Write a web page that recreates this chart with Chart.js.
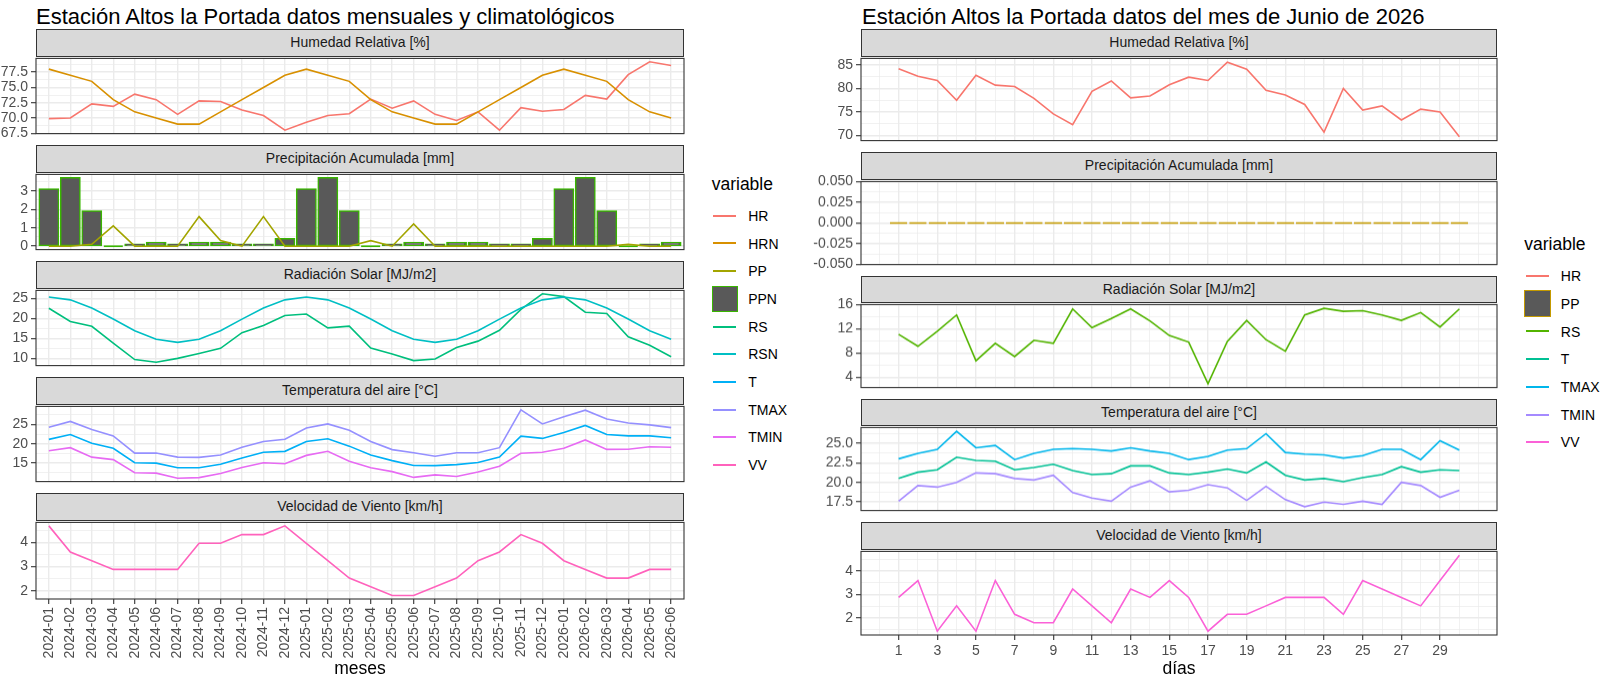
<!DOCTYPE html>
<html>
<head>
<meta charset="utf-8">
<script src="https://cdn.jsdelivr.net/npm/chart.js@4.4.1/dist/chart.umd.min.js"></script>
<style>
    body { margin: 0; background: #fff; font-family: "Liberation Sans", Arial, sans-serif; }
    #page { position: relative; width: 1600px; height: 676px; overflow: hidden; background: #fff; }
    .txt { position: absolute; white-space: nowrap; color: #000; }
    .strip { position: absolute; box-sizing: border-box; background: #d9d9d9; border: 1px solid #333;
             text-align: center; font-size: 14px; color: #1a1a1a; white-space: nowrap; }
    canvas { position: absolute; }
</style>
</head>
<body>
<div id="page"></div>
<script>
// ---- datos mensuales (panel izquierdo) ----
const meses = ['2024-01','2024-02','2024-03','2024-04','2024-05','2024-06','2024-07','2024-08','2024-09','2024-10','2024-11','2024-12',
               '2025-01','2025-02','2025-03','2025-04','2025-05','2025-06','2025-07','2025-08','2025-09','2025-10','2025-11','2025-12',
               '2026-01','2026-02','2026-03','2026-04','2026-05','2026-06'];
const hrMes   = [69.9,70.0,72.3,71.9,73.9,73.0,70.6,72.8,72.7,71.3,70.4,68.0,69.3,70.4,70.7,73.1,71.6,72.8,70.6,69.6,71.0,68.0,71.7,71.1,71.4,73.7,73.1,77.1,79.2,78.6];
const hrnMes  = [78,77,76,73,71,70,69,69,71,73,75,77,78,77,76,73,71,70,69,69,71,73,75,77,78,77,76,73,71,70];
const ppMes   = [0,0,0.1,1.1,0,0,0,1.6,0.3,0,1.6,0,0,0,0,0.3,0,1.2,0,0,0,0,0,0,0,0,0,0.1,0,0];
const ppnMes  = [3.1,3.7,1.9,0,0.1,0.2,0.1,0.2,0.2,0.1,0.1,0.4,3.1,3.7,1.9,0,0.1,0.2,0.1,0.2,0.2,0.1,0.1,0.4,3.1,3.7,1.9,0,0.1,0.2];
const rsMes   = [22.5,19.2,18.0,13.8,9.7,9.05,10.0,11.2,12.5,16.4,18.2,20.7,21.05,17.6,18.05,12.6,11.1,9.45,9.85,12.7,14.3,17.0,22.2,26.1,25.4,21.5,21.2,15.4,13.25,10.4];
const rsnMes  = [25.3,24.6,22.55,19.8,16.9,14.75,14.0,14.75,16.9,19.8,22.55,24.6,25.3,24.6,22.55,19.8,16.9,14.75,14.0,14.75,16.9,19.8,22.55,24.6,25.3,24.6,22.55,19.8,16.9,14.75];
const tMes    = [21.15,22.4,20.15,18.85,15.1,15.0,13.8,13.8,14.7,16.3,17.8,18.05,20.6,21.3,19.4,17.1,15.65,14.4,14.35,14.6,15.15,16.55,22.0,21.4,22.9,24.75,22.4,22.05,22.05,21.55];
const tmaxMes = [24.3,25.8,23.7,22.05,17.6,17.6,16.55,16.5,17.1,19.1,20.6,21.2,24.1,25.15,23.5,20.6,18.5,17.7,16.8,17.7,17.7,19.0,28.8,25.15,27.0,28.7,26.4,25.4,24.9,24.2];
const tminMes = [18.2,19.0,16.55,15.9,12.5,12.4,11.1,11.25,12.3,13.85,15.1,14.85,17.0,18.05,15.5,13.8,12.8,11.3,11.95,11.55,12.7,14.2,17.55,17.8,18.85,21.0,18.55,18.6,19.25,19.1];
const vvMes   = [4.68,3.6,3.24,2.88,2.88,2.88,2.88,3.96,3.96,4.32,4.32,4.68,3.96,3.24,2.52,2.16,1.8,1.8,2.16,2.52,3.24,3.6,4.32,3.96,3.24,2.88,2.52,2.52,2.88,2.88];

// ---- datos diarios (panel derecho) ----
const dias    = [1,2,3,4,5,6,7,8,9,10,11,12,13,14,15,16,17,18,19,20,21,22,23,24,25,26,27,28,29,30];
const diasMarcas = [1,3,5,7,9,11,13,15,17,19,21,23,25,27,29];
const hrDia   = [84.2,82.6,81.7,77.5,82.8,80.7,80.4,77.9,74.6,72.3,79.4,81.6,78.0,78.4,80.8,82.4,81.7,85.6,84.1,79.6,78.6,76.6,70.7,80.0,75.4,76.3,73.3,75.6,75.0,69.7];
const ppDia   = [0,0,0,0,0,0,0,0,0,0,0,0,0,0,0,0,0,0,0,0,0,0,0,0,0,0,0,0,0,0];
const rsDia   = [11.1,9.1,11.6,14.3,6.7,9.6,7.4,10.1,9.6,15.3,12.2,13.7,15.3,13.3,10.9,9.8,2.9,9.9,13.4,10.2,8.3,14.3,15.4,14.9,15.0,14.3,13.4,14.7,12.3,15.3];
const tDia    = [20.5,21.3,21.6,23.2,22.8,22.7,21.6,21.9,22.3,21.5,21.0,21.1,22.1,22.1,21.2,21.0,21.3,21.7,21.2,22.6,20.9,20.3,20.5,20.1,20.6,21.0,22.0,21.3,21.6,21.5];
const tmaxDia = [23.0,23.7,24.2,26.5,24.4,24.7,22.9,23.7,24.2,24.3,24.2,24.0,24.4,24.0,23.7,22.9,23.3,24.1,24.3,26.2,23.8,23.6,23.5,23.1,23.4,24.2,24.2,22.9,25.3,24.1];
const tminDia = [17.6,19.6,19.4,20.0,21.2,21.1,20.5,20.3,20.9,18.7,18.0,17.6,19.4,20.2,18.8,19.0,19.7,19.3,17.7,19.5,17.8,16.9,17.5,17.2,17.6,17.2,20.0,19.6,18.1,19.0];
const vvDia   = [2.88,3.6,1.44,2.52,1.44,3.6,2.16,1.8,1.8,3.24,2.52,1.8,3.24,2.88,3.6,2.88,1.44,2.16,2.16,2.52,2.88,2.88,2.88,2.16,3.6,3.24,2.88,2.52,3.6,4.68];

// ---- leyendas ----
const variablesMes = ['HR','HRN','PP','PPN','RS','RSN','T','TMAX','TMIN','VV'];
const coloresMes   = ['#F8766D','#D89000','#A3A500','#39B600','#00BF7D','#00BFC4','#00B0F6','#9590FF','#E76BF3','#FF62BC'];
const variablesDia = ['HR','PP','RS','T','TMAX','TMIN','VV'];
const coloresDia   = ['#F8766D','#C49A00','#53B400','#00C094','#00B6EB','#A58AFF','#FB61D7'];

const FUENTE = "'Liberation Sans', Arial, sans-serif";
const GRIS_EJE = '#4D4D4D';
const GRILLA = '#EBEBEB';
const RELLENO_BARRA = '#595959';
const STRIP_H = 27.5;
const PAD = 10;

Chart.defaults.font.family = FUENTE;

const page = document.getElementById('page');

function colorDe(nombre, nombres, colores) {
    return colores[nombres.indexOf(nombre)];
}

function limites(series) {
    const todos = series.flat();
    const lo = Math.min(...todos), hi = Math.max(...todos), r = hi - lo;
    return [lo - 0.05 * r, hi + 0.05 * r];
}

// marcas mayores + menores (a mitad de camino), como en ggplot
function marcas(mayores, lo, hi, conMenores) {
    const res = mayores.filter(v => v >= lo - 1e-9 && v <= hi + 1e-9).map(v => ({ value: v, menor: false }));
    if (conMenores) {
        const d = mayores[1] - mayores[0];
        const ext = [mayores[0] - d, ...mayores, mayores[mayores.length - 1] + d];
        const cand = [];
        for (let i = 0; i < ext.length - 1; i++) cand.push(ext[i], (ext[i] + ext[i + 1]) / 2);
        cand.push(ext[ext.length - 1]);
        cand.forEach(v => {
            if (v >= lo && v <= hi && !mayores.some(m => Math.abs(m - v) < 1e-9)) res.push({ value: v, menor: true });
        });
    }
    return res.sort((a, b) => a.value - b.value);
}

function puntos(xs, ys) {
    return xs.map((x, i) => ({ x: x, y: ys[i] }));
}

function texto(str, left, base, size, extra) {
    const d = document.createElement('div');
    d.className = 'txt';
    d.textContent = str;
    d.style.left = left + 'px';
    d.style.top = (base - 0.8465 * size) + 'px';
    d.style.fontSize = size + 'px';
    d.style.lineHeight = size + 'px';
    if (extra) Object.assign(d.style, extra);
    page.appendChild(d);
    return d;
}

const bordePanel = {
    id: 'bordePanel',
    afterDraw(chart) {
        const a = chart.chartArea, c = chart.ctx;
        c.save();
        c.strokeStyle = '#333333';
        c.lineWidth = 1.1;
        c.strokeRect(a.left, a.top, a.right - a.left, a.bottom - a.top);
        c.restore();
    }
};

function faceta(cfg) {
    const strip = document.createElement('div');
    strip.className = 'strip';
    Object.assign(strip.style, {
        left: cfg.x + 'px', top: cfg.top + 'px', width: cfg.w + 'px',
        height: STRIP_H + 'px', lineHeight: (STRIP_H - 2) + 'px'
    });
    strip.textContent = cfg.titulo;
    page.appendChild(strip);

    const panelTop = cfg.top + STRIP_H;
    const ejeH = cfg.ejeX ? cfg.ejeXH : 0;
    const padAbajo = cfg.ejeX ? 0 : PAD;
    const cw = cfg.axw + cfg.w + PAD;
    const ch = PAD + cfg.h + ejeH + padAbajo;

    const canvas = document.createElement('canvas');
    canvas.width = cw;
    canvas.height = ch;
    canvas.style.left = (cfg.x - cfg.axw) + 'px';
    canvas.style.top = (panelTop - PAD) + 'px';
    canvas.style.width = cw + 'px';
    canvas.style.height = ch + 'px';
    page.appendChild(canvas);

    const ylim = cfg.ylim || limites(cfg.series);
    const yTicks = marcas(cfg.yMarcas, ylim[0], ylim[1], true);
    const xTicks = marcas(cfg.xMarcas, cfg.xlim[0], cfg.xlim[1], cfg.xMenores);

    const grid = {
        color: GRILLA,
        lineWidth: ctx => (ctx.tick && ctx.tick.menor) ? 0.7 : 1.4,
        tickColor: ctx => (ctx.tick && ctx.tick.menor) ? 'rgba(0,0,0,0)' : '#333333',
        tickWidth: 1.1,
        tickLength: 5,
        offset: false
    };

    new Chart(canvas, {
        type: cfg.tipo || 'line',
        data: { datasets: cfg.datasets },
        options: {
            responsive: false,
            animation: false,
            devicePixelRatio: 1,
            layout: { padding: { top: PAD, right: PAD, bottom: padAbajo, left: 0 } },
            plugins: { legend: { display: false }, tooltip: { enabled: false } },
            elements: { point: { radius: 0 }, line: { tension: 0, borderWidth: 1.6 } },
            scales: {
                x: {
                    type: 'linear', min: cfg.xlim[0], max: cfg.xlim[1], offset: false,
                    afterBuildTicks: ax => { ax.ticks = xTicks.map(t => ({ value: t.value, menor: t.menor })); },
                    afterFit: ax => { ax.height = ejeH; },
                    border: { display: false },
                    grid: Object.assign({}, grid, { drawTicks: !!cfg.ejeX }),
                    ticks: {
                        display: !!cfg.ejeX, autoSkip: false, padding: 3,
                        maxRotation: cfg.rot || 0, minRotation: cfg.rot || 0,
                        color: GRIS_EJE, font: { size: 14 },
                        callback: (v, i, ts) => ts[i].menor ? '' : cfg.xEtiqueta(v)
                    }
                },
                y: {
                    type: 'linear', min: ylim[0], max: ylim[1],
                    afterBuildTicks: ax => { ax.ticks = yTicks.map(t => ({ value: t.value, menor: t.menor })); },
                    afterFit: ax => { ax.width = cfg.axw; },
                    border: { display: false },
                    grid: grid,
                    ticks: {
                        autoSkip: false, padding: 3, color: GRIS_EJE, font: { size: 14 },
                        callback: (v, i, ts) => ts[i].menor ? '' : v.toFixed(cfg.dec)
                    }
                }
            }
        },
        plugins: [bordePanel]
    });
}

function lineas(xs, nombres, series, nombresLeyenda, colores) {
    const n = nombres.length;
    return nombres.map((nom, i) => ({
        type: 'line',
        label: nom,
        data: puntos(xs, series[i]),
        borderColor: colorDe(nom, nombresLeyenda, colores),
        borderWidth: 1.6,
        pointRadius: 0,
        fill: false,
        order: n - i
    }));
}

// barras con borde; las de altura cero quedan como un trazo del color del borde
function barras(xs, ys, borde, etiqueta) {
    const esCero = ctx => ctx.raw && ctx.raw.y === 0;
    return {
        type: 'bar',
        label: etiqueta,
        data: puntos(xs, ys),
        backgroundColor: ctx => esCero(ctx) ? borde : RELLENO_BARRA,
        borderColor: borde,
        borderWidth: 1.5,
        borderSkipped: false,
        minBarLength: 2,
        inflateAmount: ctx => esCero(ctx) ? 0 : 0.75,
        barPercentage: 0.9,
        categoryPercentage: 1.0,
        order: 10
    };
}

// ---- panel izquierdo: mensual ----
const posMes = meses.map((m, i) => i + 1);
const IZQ = { x: 36, w: 648, axw: 36, h: 78.5, paso: 116, xlim: [0.4, 30.6] };
const facetasMes = [
    { titulo: 'Humedad Relativa [%]', series: [hrMes, hrnMes], yMarcas: [67.5, 70, 72.5, 75, 77.5], dec: 1,
      datasets: lineas(posMes, ['HR', 'HRN'], [hrMes, hrnMes], variablesMes, coloresMes) },
    { titulo: 'Precipitación Acumulada [mm]', series: [ppMes, ppnMes], yMarcas: [0, 1, 2, 3], dec: 0, tipo: 'bar',
      datasets: [barras(posMes, ppnMes, colorDe('PPN', variablesMes, coloresMes), 'PPN')]
                .concat(lineas(posMes, ['PP'], [ppMes], variablesMes, coloresMes)) },
    { titulo: 'Radiación Solar [MJ/m2]', series: [rsMes, rsnMes], yMarcas: [10, 15, 20, 25], dec: 0,
      datasets: lineas(posMes, ['RS', 'RSN'], [rsMes, rsnMes], variablesMes, coloresMes) },
    { titulo: 'Temperatura del aire [°C]', series: [tMes, tmaxMes, tminMes], yMarcas: [15, 20, 25], dec: 0,
      datasets: lineas(posMes, ['T', 'TMAX', 'TMIN'], [tMes, tmaxMes, tminMes], variablesMes, coloresMes) },
    { titulo: 'Velocidad de Viento [km/h]', series: [vvMes], yMarcas: [2, 3, 4], dec: 0,
      datasets: lineas(posMes, ['VV'], [vvMes], variablesMes, coloresMes) }
];
facetasMes.forEach((f, i) => {
    faceta(Object.assign({}, f, {
        x: IZQ.x, w: IZQ.w, axw: IZQ.axw, h: IZQ.h, top: 29 + IZQ.paso * i,
        xlim: IZQ.xlim, xMarcas: posMes, xMenores: false,
        xEtiqueta: v => meses[Math.round(v) - 1],
        ejeX: i === facetasMes.length - 1, ejeXH: 62, rot: 90
    }));
});

// ---- panel derecho: diario ----
const DER = { x: 861, w: 636, axw: 70, h: 85.8, paso: 123.3, xlim: [-0.945, 31.945] };
const facetasDia = [
    { titulo: 'Humedad Relativa [%]', series: [hrDia], yMarcas: [70, 75, 80, 85], dec: 0,
      datasets: lineas(dias, ['HR'], [hrDia], variablesDia, coloresDia) },
    { titulo: 'Precipitación Acumulada [mm]', ylim: [-0.05, 0.05], yMarcas: [-0.05, -0.025, 0, 0.025, 0.05], dec: 3, tipo: 'bar',
      datasets: [barras(dias, ppDia, colorDe('PP', variablesDia, coloresDia), 'PP')] },
    { titulo: 'Radiación Solar [MJ/m2]', series: [rsDia], yMarcas: [4, 8, 12, 16], dec: 0,
      datasets: lineas(dias, ['RS'], [rsDia], variablesDia, coloresDia) },
    { titulo: 'Temperatura del aire [°C]', series: [tDia, tmaxDia, tminDia], yMarcas: [17.5, 20, 22.5, 25], dec: 1,
      datasets: lineas(dias, ['T', 'TMAX', 'TMIN'], [tDia, tmaxDia, tminDia], variablesDia, coloresDia) },
    { titulo: 'Velocidad de Viento [km/h]', series: [vvDia], yMarcas: [2, 3, 4], dec: 0,
      datasets: lineas(dias, ['VV'], [vvDia], variablesDia, coloresDia) }
];
facetasDia.forEach((f, i) => {
    faceta(Object.assign({}, f, {
        x: DER.x, w: DER.w, axw: DER.axw, h: DER.h, top: 29 + DER.paso * i,
        xlim: DER.xlim, xMarcas: diasMarcas, xMenores: true,
        xEtiqueta: v => String(Math.round(v)),
        ejeX: i === facetasDia.length - 1, ejeXH: 25, rot: 0
    }));
});

// ---- títulos ----
texto('Estación Altos la Portada datos mensuales y climatológicos', 36, 25, 22);
texto('Estación Altos la Portada datos del mes de Junio de 2026', 862, 25, 22);
texto('meses', IZQ.x + IZQ.w / 2 - 100, 675, 17.5, { width: '200px', textAlign: 'center' });
texto('días', DER.x + DER.w / 2 - 100, 675, 17.5, { width: '200px', textAlign: 'center' });

// ---- leyendas ----
function leyenda(x, baseTitulo, yPrimero, nombres, colores, caja) {
    texto('variable', x, baseTitulo, 17.5);
    nombres.forEach((nom, i) => {
        const cy = yPrimero + 27.7 * i;
        const k = document.createElement('div');
        k.style.position = 'absolute';
        if (nom === caja) {
            Object.assign(k.style, {
                left: x + 'px', top: (cy - 13.3) + 'px', width: '26.6px', height: '26.6px',
                boxSizing: 'border-box', background: RELLENO_BARRA, border: '1.5px solid ' + colores[i]
            });
        } else {
            Object.assign(k.style, {
                left: (x + 1.6) + 'px', top: (cy - 1) + 'px', width: '23px', height: '2px', background: colores[i]
            });
        }
        page.appendChild(k);
        texto(nom, x + 36.5, cy + 5, 14);
    });
}
leyenda(711.7, 191, 215.7, variablesMes, coloresMes, 'PPN');
leyenda(1524.3, 251, 276, variablesDia, coloresDia, 'PP');
</script>
</body>
</html>
